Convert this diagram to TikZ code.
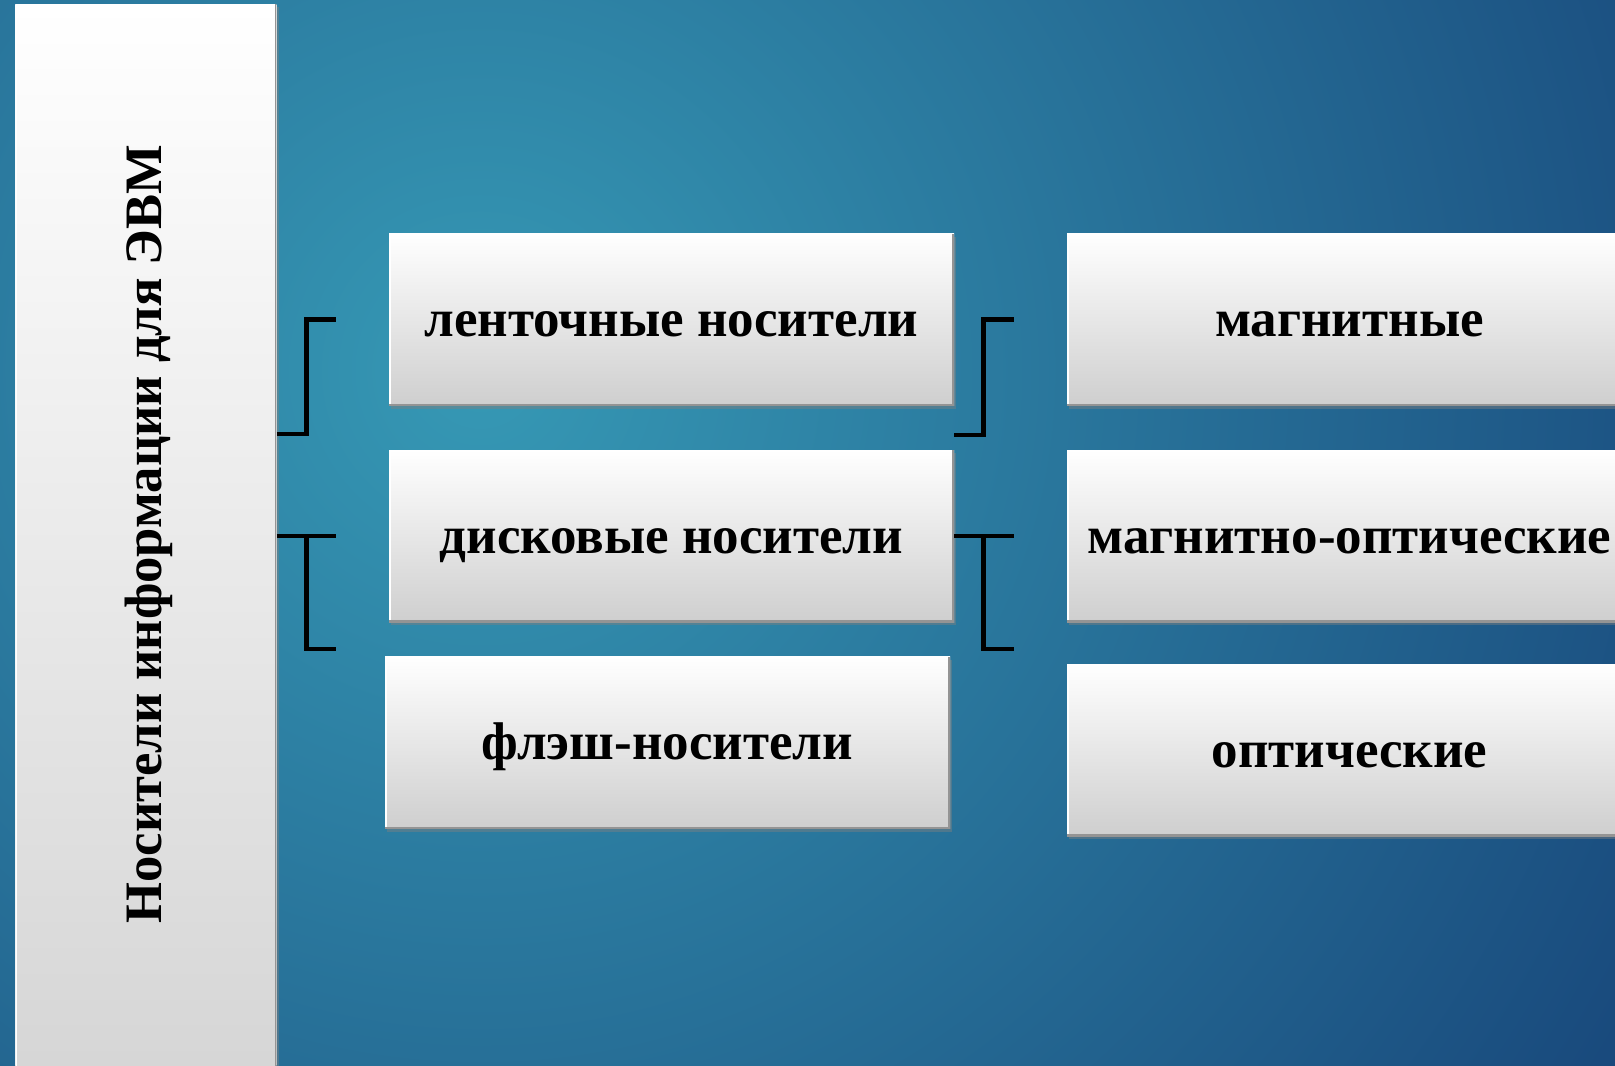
\documentclass[tikz,border=0pt]{standalone}
\usepackage{fontspec}
\setmainfont{Liberation Serif}
\usetikzlibrary{shadows,calc}
\definecolor{bgin}{HTML}{3699B5}
\definecolor{bgout}{HTML}{153F75}
\tikzset{
  bevel/.style={path picture={
      \draw[white, line width=1.6pt] (path picture bounding box.south west) -- (path picture bounding box.north west) -- (path picture bounding box.north east);
      \draw[black!42, line width=1.6pt] (path picture bounding box.south west) -- (path picture bounding box.south east) -- (path picture bounding box.north east);}},
  boxstyle/.style={rectangle, inner sep=0pt, minimum width=282.5pt, minimum height=86pt,
      top color=white, middle color=white!96!black, bottom color=black!19,
      drop shadow={shadow xshift=1.2pt, shadow yshift=-1.5pt, opacity=0.45},
      bevel, font=\bfseries\fontsize{26.5}{30}\selectfont, text height=17.2pt, text depth=0pt},
  panelstyle/.style={rectangle, inner sep=0pt, anchor=north west,
      minimum width=130.5pt, minimum height=560pt,
      top color=white, middle color=white!94!black, bottom color=black!17,
      drop shadow={shadow xshift=1.2pt, shadow yshift=-1.5pt, opacity=0.45}, bevel},
  br/.style={draw=black, line width=2.4pt, line join=miter}
}
\begin{document}
\begin{tikzpicture}[x=0.5pt, y=-0.5pt]
\useasboundingbox (0,0) rectangle (1615,1065);
\clip (0,0) rectangle (1615,1065);
\shade[inner color=bgin, outer color=bgout] (480,370) circle (750pt);

\node[panelstyle] (panel) at (15,4) {};
\node[rotate=90, inner sep=0pt, text height=17.4pt, text depth=0pt, font=\bfseries\fontsize{26.3}{30}\selectfont] (paneltext) at (144.5,534) {Носители информации для ЭВМ};

\node[boxstyle] (lenta) at (671.5,319.5) {ленточные носители};
\node[boxstyle] (disk) at (671.5,536) {дисковые носители};
\node[boxstyle] (flash) at (667.5,742.5) {флэш-носители};

\node[boxstyle] (magn) at (1349.5,319.5) {магнитные};
\node[boxstyle] (magnopt) at (1349.5,536) {магнитно-оптические};
\node[boxstyle] (opt) at (1349.5,750) {оптические};

% left brackets
\coordinate (lb1e) at ($(lenta.west)+(-53,0)$);
\coordinate (lb1s) at ($(lenta.west)+(0,114.5)$);
\draw[br] (panel.east |- lb1s) -- ++(30,0) |- (lb1e);
\coordinate (lb2e) at ($(disk.west)+(-53,0)$);
\coordinate (lb2b) at ($(disk.west)+(-53,113)$);
\draw[br] (panel.east |- disk.west) -- (lb2e);
\draw[br] ($(panel.east |- disk.west)+(30,0)$) |- (lb2b);

% right brackets
\coordinate (rb1e) at ($(magn.west)+(-53,0)$);
\draw[br] ($(lenta.south east)+(0,29)$) -- ++(29,0) |- (rb1e);
\coordinate (rb2e) at ($(magnopt.west)+(-53,0)$);
\coordinate (rb2b) at ($(magnopt.west)+(-53,113)$);
\draw[br] (disk.east) -- (rb2e);
\draw[br] ($(disk.east)+(29,0)$) |- (rb2b);
\end{tikzpicture}
\end{document}
